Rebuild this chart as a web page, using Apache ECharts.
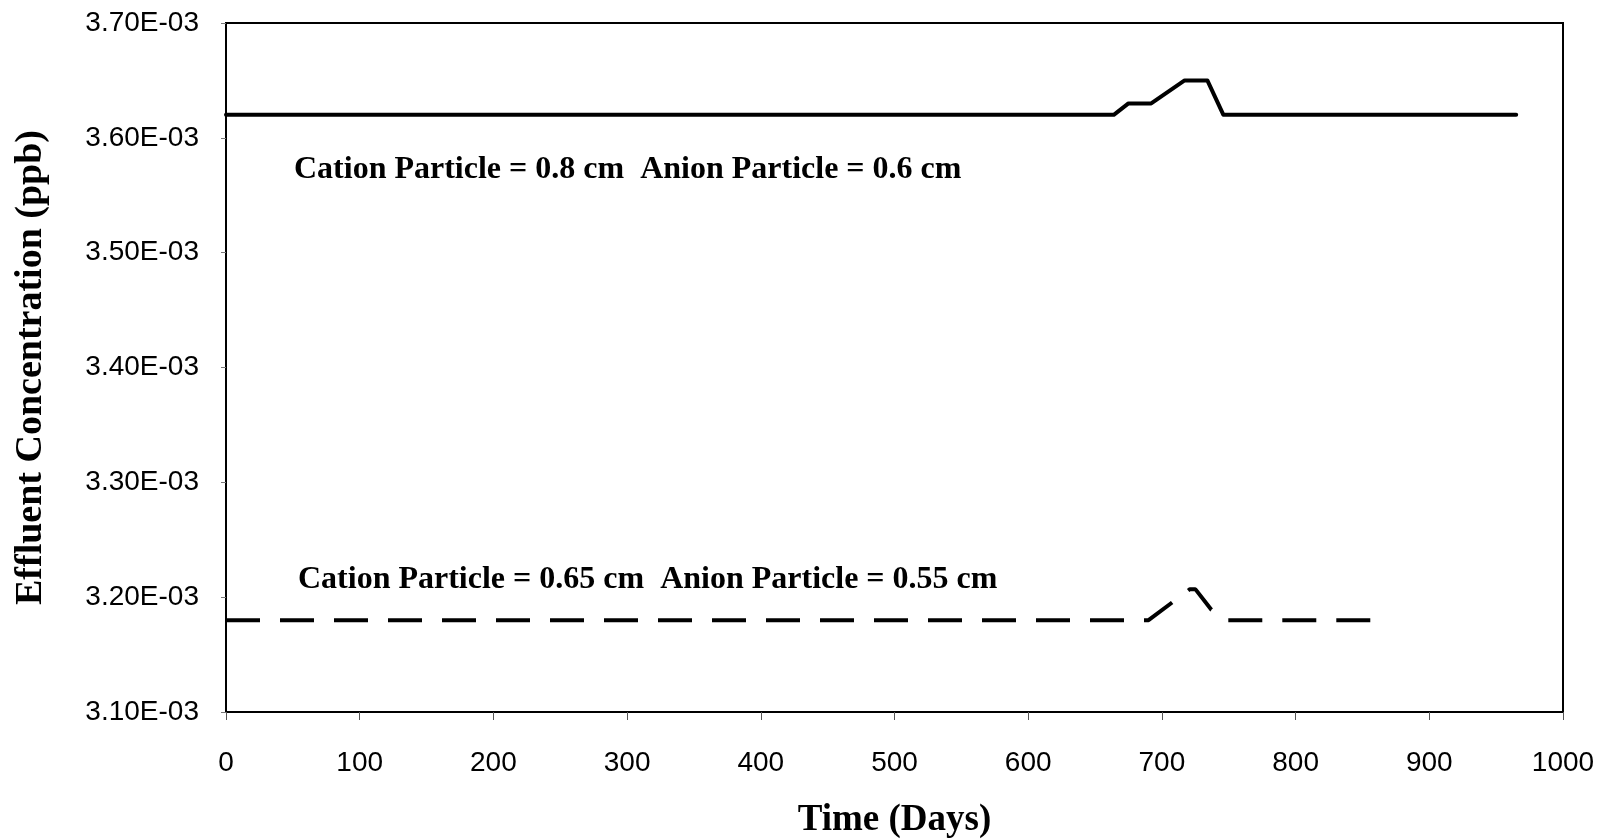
<!DOCTYPE html>
<html>
<head>
<meta charset="utf-8">
<script src="https://cdn.jsdelivr.net/npm/echarts@6/dist/echarts.min.js"></script>
<style>
html,body{margin:0;padding:0;background:#fff;}
#chart{width:1602px;height:840px;}
</style>
</head>
<body>
<div id="chart"></div>
<script>
// Data
const solidDays = [0, 664, 675, 692, 717, 734, 746, 965];
const solidConc = [3.62e-3, 3.62e-3, 3.63e-3, 3.63e-3, 3.65e-3, 3.65e-3, 3.62e-3, 3.62e-3];
const dashDays = [0, 690, 721, 725, 737, 743, 748, 864];
const dashConc = [3.18e-3, 3.18e-3, 3.207e-3, 3.207e-3, 3.189e-3, 3.184e-3, 3.18e-3, 3.18e-3];
const solidLabel = 'Cation Particle = 0.8 cm  Anion Particle = 0.6 cm';
const dashLabel = 'Cation Particle = 0.65 cm  Anion Particle = 0.55 cm';
const xTitle = 'Time (Days)';
const yTitle = 'Effluent Concentration (ppb)';

function pairs(xs, ys) { return xs.map((x, i) => [x, ys[i]]); }
function fmtExp(v) {
  const s = Number(v).toExponential(2).toUpperCase();
  return s.replace(/E([+-])(\d)$/, 'E$10$2');
}
function fmtInt(v) { return String(Math.round(v)); }

const chart = echarts.init(document.getElementById('chart'));
const tickFont = { fontFamily: 'Liberation Sans, Arial, sans-serif', fontSize: 28, color: '#000' };
const serif = 'Liberation Serif, Times New Roman, serif';

chart.setOption({
  animation: false,
  backgroundColor: '#fff',
  grid: {
    left: 226, right: 39, top: 23, bottom: 128,
    containLabel: false, outerBoundsMode: 'none',
    show: true, borderColor: '#000', borderWidth: 2, backgroundColor: 'transparent'
  },
  xAxis: {
    type: 'value', min: 0, max: 1000, interval: 100,
    name: xTitle, nameLocation: 'middle', nameGap: 90,
    nameTextStyle: { fontSize: 37, fontFamily: serif, fontWeight: 'bold', color: '#000' },
    axisLine: { show: true, onZero: false, lineStyle: { color: '#000', width: 2 } },
    axisTick: { show: true, inside: false, length: 8, lineStyle: { color: '#555', width: 1 } },
    axisLabel: Object.assign({ margin: 37, formatter: fmtInt }, tickFont),
    splitLine: { show: false }
  },
  yAxis: {
    type: 'value', min: 0.0031, max: 0.0037, interval: 0.0001,
    name: yTitle, nameLocation: 'middle', nameGap: 176,
    nameTextStyle: { fontSize: 38, fontFamily: serif, fontWeight: 'bold', color: '#000' },
    axisLine: { show: true, onZero: false, lineStyle: { color: '#000', width: 2 } },
    axisTick: { show: true, inside: false, length: 5, lineStyle: { color: '#777', width: 1 } },
    axisLabel: Object.assign({ margin: 27, formatter: fmtExp }, tickFont),
    splitLine: { show: false }
  },
  series: [
    {
      type: 'line', data: pairs(solidDays, solidConc), symbol: 'none',
      lineStyle: { color: '#000', width: 4, join: 'round', cap: 'round' }
    },
    {
      type: 'line', data: pairs(dashDays, dashConc), symbol: 'none',
      lineStyle: { color: '#000', width: 4, type: [34, 20], dashOffset: 0 }
    }
  ],
  graphic: [
    { type: 'text', left: 294, top: 154, style: { text: solidLabel, fontSize: 32, fill: '#000', fontFamily: serif, fontWeight: 'bold' } },
    { type: 'text', left: 298, top: 564, style: { text: dashLabel, fontSize: 32, fill: '#000', fontFamily: serif, fontWeight: 'bold' } }
  ]
});
</script>
</body>
</html>
